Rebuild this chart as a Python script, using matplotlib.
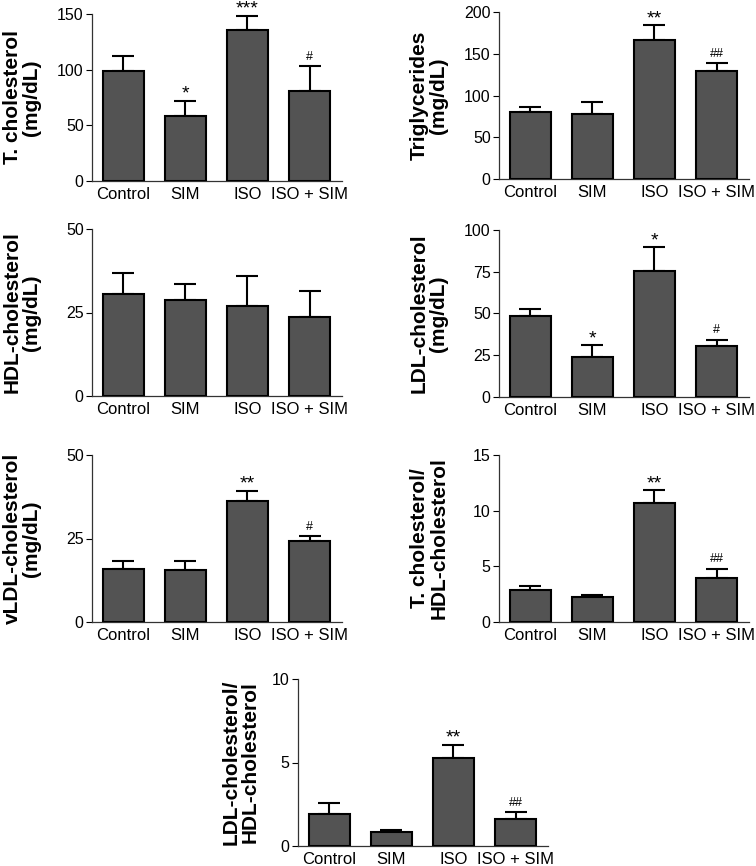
import matplotlib
matplotlib.use('Agg')
import matplotlib.pyplot as plt

plt.rcParams['font.family'] = ['Liberation Sans', 'DejaVu Sans']

groups = ['Control', 'SIM', 'ISO', 'ISO + SIM']

tchol = [98.5, 58.7, 135.8, 80.4]
tchol_err = [13.5, 13.3, 12.6, 22.6]
tchol_sig = ['', '*', '***', '#']

tg = [80.8, 78.0, 166.0, 129.0]
tg_err = [5.2, 14.0, 18.0, 9.7]
tg_sig = ['', '', '**', '##']

hdl = [30.5, 28.8, 26.8, 23.6]
hdl_err = [6.4, 4.6, 9.1, 7.7]
hdl_sig = ['', '', '', '']

ldl = [48.6, 24.0, 75.6, 30.6]
ldl_err = [4.2, 7.2, 14.2, 3.8]
ldl_sig = ['', '*', '*', '#']

vldl = [16.0, 15.6, 36.2, 24.2]
vldl_err = [2.2, 2.8, 3.1, 1.5]
vldl_sig = ['', '', '**', '#']

tc_hdl = [2.9, 2.25, 10.7, 3.97]
tc_hdl_err = [0.32, 0.15, 1.13, 0.83]
tc_hdl_sig = ['', '', '**', '##']

ldl_hdl = [1.89, 0.86, 5.25, 1.59]
ldl_hdl_err = [0.70, 0.12, 0.81, 0.42]
ldl_hdl_sig = ['', '', '**', '##']

W, H = 756, 866
fig = plt.figure(figsize=(W / 100, H / 100), dpi=100)

# (label, values, errors, sig marks, yticks, left px, top px)
panels = [
    ('T. cholesterol\n(mg/dL)', tchol, tchol_err, tchol_sig, [0, 50, 100, 150], 92, 14),
    ('Triglycerides\n(mg/dL)', tg, tg_err, tg_sig, [0, 50, 100, 150, 200], 499, 12),
    ('HDL-cholesterol\n(mg/dL)', hdl, hdl_err, hdl_sig, [0, 25, 50], 92, 229),
    ('LDL-cholesterol\n(mg/dL)', ldl, ldl_err, ldl_sig, [0, 25, 50, 75, 100], 499, 230),
    ('vLDL-cholesterol\n(mg/dL)', vldl, vldl_err, vldl_sig, [0, 25, 50], 92, 455),
    ('T. cholesterol/\nHDL-cholesterol', tc_hdl, tc_hdl_err, tc_hdl_sig, [0, 5, 10, 15], 499, 455),
    ('LDL-cholesterol/\nHDL-cholesterol', ldl_hdl, ldl_hdl_err, ldl_hdl_sig, [0, 5, 10], 298, 679),
]

x = range(len(groups))
for label, vals, errs, sig, yt, left, top in panels:
    ax = fig.add_axes([left / W, 1 - (top + 167) / H, 250 / W, 167 / H])
    ax.bar(x, vals, width=0.66, color='#535353', edgecolor='black', linewidth=1.5, zorder=3)
    ax.errorbar(x, vals, yerr=[[0] * 4, errs], fmt='none', ecolor='black',
                elinewidth=1.5, capsize=8, capthick=1.5, zorder=2)
    for i in x:
        if sig[i]:
            if '*' in sig[i]:
                fs, off = 14, -1.5
            else:
                fs, off = 9, 2.5
            ax.annotate(sig[i], (i, vals[i] + errs[i]), xytext=(0, off), textcoords='offset points',
                        ha='center', va='bottom', fontsize=fs, annotation_clip=False)
    ax.set_xlim(-0.5, 3.52)
    ax.set_ylim(yt[0], yt[-1])
    ax.set_yticks(yt)
    ax.set_xticks(list(x))
    ax.set_xticklabels(groups, fontsize=12)
    ax.tick_params(axis='x', length=0, pad=4)
    ax.tick_params(axis='y', length=4, width=0.8, labelsize=11.5, pad=2)
    for key, spine in ax.spines.items():
        spine.set_visible(key in ('left', 'bottom'))
        spine.set_linewidth(0.9)
        spine.set_color('#333333')
    lx = -0.23 if left == 298 else -0.28
    ax.text(lx, 0.5, label, transform=ax.transAxes, rotation=90, ha='center', va='center',
            multialignment='center', fontsize=15, fontweight='bold', linespacing=1.05)

fig.savefig('out.png', dpi=100)
